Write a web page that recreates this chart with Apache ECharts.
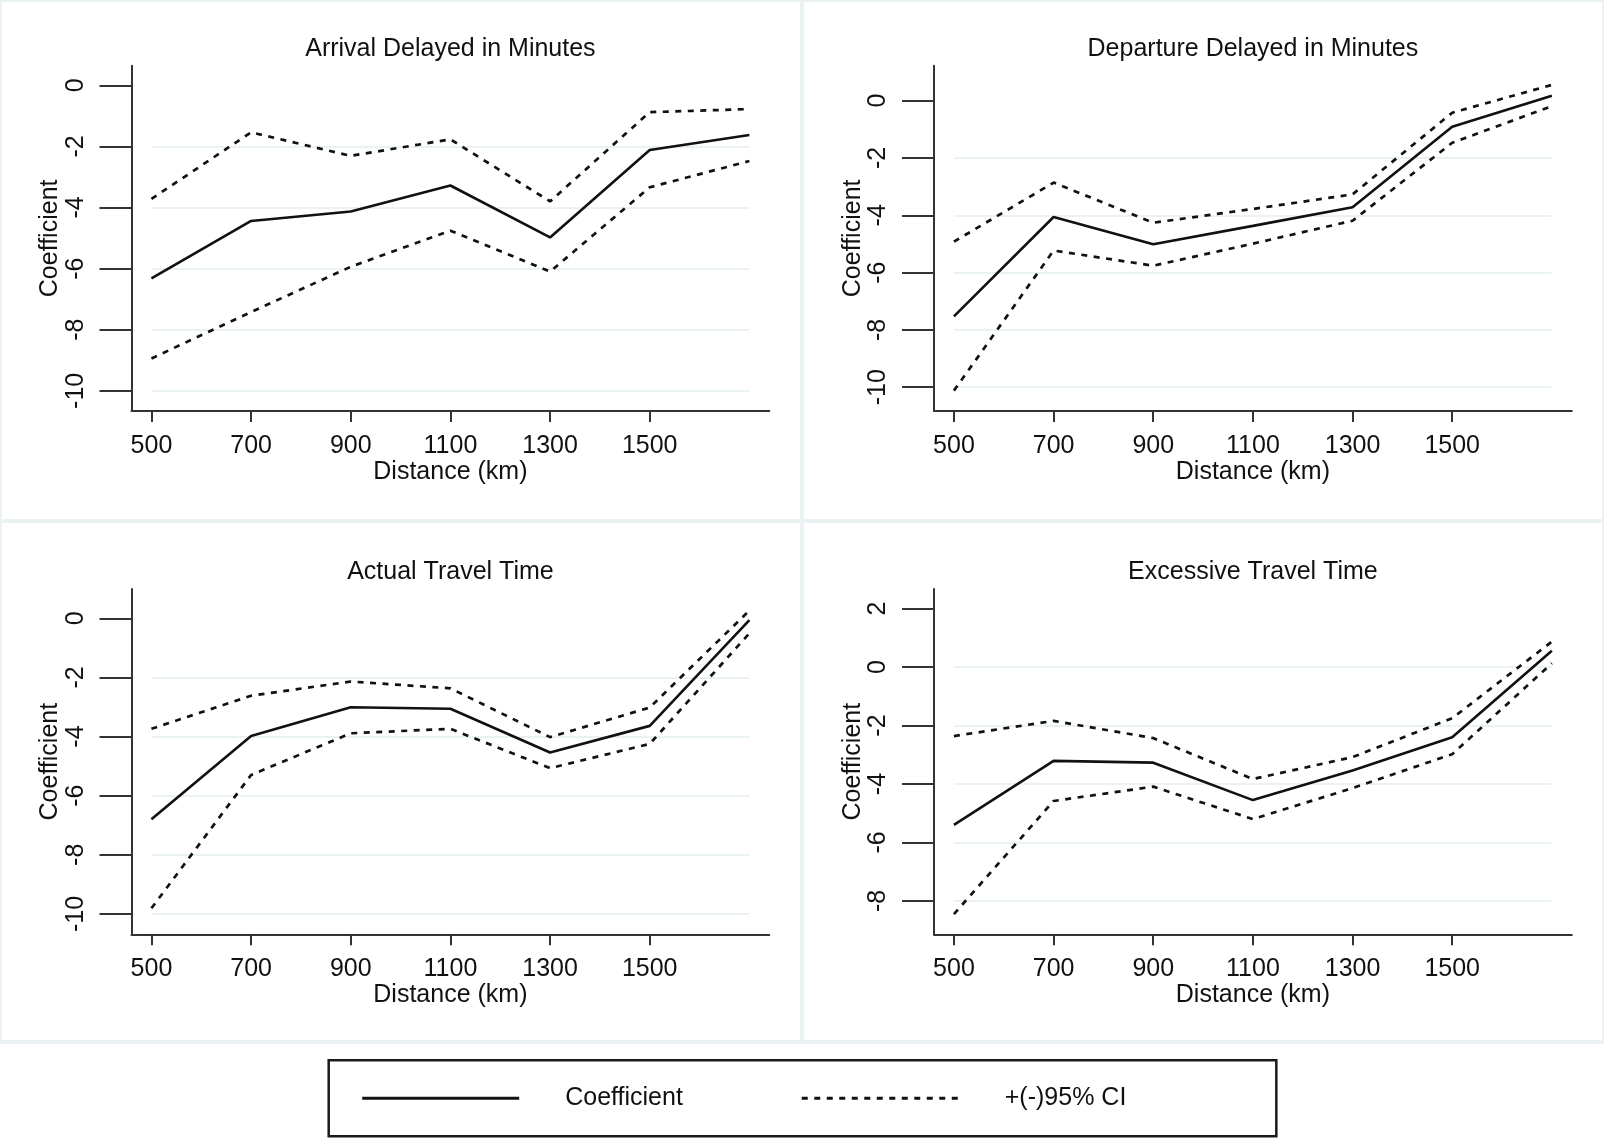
<!DOCTYPE html>
<html>
<head>
<meta charset="utf-8">
<script src="https://cdn.jsdelivr.net/npm/echarts@6/dist/echarts.min.js"></script>
<style>
html,body{margin:0;padding:0;background:#ffffff;}
#chart{width:1604px;height:1138px;}
</style>
</head>
<body>
<div id="chart"></div>
<script>
// ---------- data ----------
const distances = [500, 700, 900, 1100, 1300, 1500, 1700];
const xTickLabels = [500, 700, 900, 1100, 1300, 1500];

const panelTitles = ['Arrival Delayed in Minutes', 'Departure Delayed in Minutes', 'Actual Travel Time', 'Excessive Travel Time'];

const arrivalCoef  = [-6.32, -4.44, -4.13, -3.28, -4.98, -2.12, -1.63];
const arrivalUpper = [-3.72, -1.54, -2.31, -1.77, -3.80, -0.88, -0.78];
const arrivalLower = [-8.94, -7.42, -5.94, -4.76, -6.10, -3.34, -2.48];

const departureCoef  = [-7.53, -4.06, -5.01, -4.37, -3.72, -0.91, 0.17];
const departureUpper = [-4.92, -2.86, -4.26, -3.78, -3.27, -0.42, 0.55];
const departureLower = [-10.12, -5.23, -5.76, -4.99, -4.19, -1.47, -0.19];

const actualCoef  = [-6.80, -3.98, -3.01, -3.06, -4.54, -3.64, -0.06];
const actualUpper = [-3.74, -2.62, -2.14, -2.37, -4.02, -3.02, 0.26];
const actualLower = [-9.81, -5.30, -3.89, -3.74, -5.07, -4.25, -0.51];

const excessiveCoef  = [-5.40, -3.21, -3.27, -4.55, -3.54, -2.40, 0.56];
const excessiveUpper = [-2.36, -1.84, -2.43, -3.83, -3.08, -1.75, 0.87];
const excessiveLower = [-8.45, -4.58, -4.09, -5.20, -4.14, -2.98, 0.13];

const yTicksArrival   = [0, -2, -4, -6, -8, -10];
const yTicksDeparture = [0, -2, -4, -6, -8, -10];
const yTicksActual    = [0, -2, -4, -6, -8, -10];
const yTicksExcessive = [2, 0, -2, -4, -6, -8];

const legendNames = ['Coefficient', '+(-)95% CI'];
const xAxisTitle = 'Distance (km)';
const yAxisTitle = 'Coefficient';

// ---------- layout / style ----------
const FONT = "'Liberation Sans', Arial, Helvetica, sans-serif";
const TEXT = '#111111';
const AXIS = '#333333';
const LINE = '#111111';
const GRIDC = '#eaf2f3';
const FS = 25;

const panels = [
  {coef: arrivalCoef, up: arrivalUpper, lo: arrivalLower, ticks: yTicksArrival, yr: [-10.66, 0.64], left: 131.5, top: 65.7},
  {coef: departureCoef, up: departureUpper, lo: departureLower, ticks: yTicksDeparture, yr: [-10.83, 1.22], left: 934, top: 65.7},
  {coef: actualCoef, up: actualUpper, lo: actualLower, ticks: yTicksActual, yr: [-10.69, 0.99], left: 131.5, top: 589},
  {coef: excessiveCoef, up: excessiveUpper, lo: excessiveLower, ticks: yTicksExcessive, yr: [-9.14, 2.67], left: 934, top: 589}
];
const GW = 637.8, GH = 345.3;
const XMIN = 460, XMAX = 1740;

const pairs = (ys) => distances.map((d, i) => [d, ys[i]]);
const plain = (v) => String(v);

const grids = [], xAxes = [], yAxes = [], series = [], titles = [];

panels.forEach((p, i) => {
  grids.push({left: p.left, top: p.top, width: GW, height: GH, containLabel: false, outerBoundsMode: 'none'});
  xAxes.push({
    type: 'value', gridIndex: i, min: XMIN, max: XMAX,
    name: xAxisTitle, nameLocation: 'middle', nameGap: 48.5, nameMoveOverlap: false,
    nameTextStyle: {fontSize: FS, color: TEXT, fontFamily: FONT},
    axisLine: {show: true, onZero: false, lineStyle: {color: AXIS, width: 2}},
    axisTick: {show: true, customValues: xTickLabels, length: 11, lineStyle: {color: AXIS, width: 2}},
    axisLabel: {show: true, customValues: xTickLabels, formatter: plain, margin: 22.3, fontSize: FS, color: TEXT, fontFamily: FONT},
    splitLine: {show: false}
  });
  yAxes.push({
    type: 'value', gridIndex: i, min: p.yr[0], max: p.yr[1],
    name: yAxisTitle, nameLocation: 'middle', nameGap: 68.5, nameRotate: 90, nameMoveOverlap: false,
    nameTextStyle: {fontSize: FS, color: TEXT, fontFamily: FONT},
    axisLine: {show: true, onZero: false, lineStyle: {color: AXIS, width: 2}},
    axisTick: {show: true, customValues: p.ticks, length: 32, lineStyle: {color: AXIS, width: 2}},
    axisLabel: {show: true, customValues: p.ticks, formatter: plain, rotate: 90, margin: 43, fontSize: FS, color: TEXT, fontFamily: FONT},
    splitLine: {show: false}
  });
  // light horizontal grid lines (all ticks except the top one), spanning the data range
  series.push({
    type: 'line', name: 'grid' + i, xAxisIndex: i, yAxisIndex: i, data: [], silent: true,
    markLine: {
      silent: true, z: 1, animation: false, symbol: ['none', 'none'],
      label: {show: false}, emphasis: {disabled: true},
      lineStyle: {color: GRIDC, width: 2.2, type: 'solid'},
      data: p.ticks.slice(1).map(v => [{coord: [distances[0], v]}, {coord: [distances[distances.length - 1], v]}])
    }
  });
  series.push({
    type: 'line', name: legendNames[1], xAxisIndex: i, yAxisIndex: i, data: pairs(p.up),
    symbol: 'none', silent: true, z: 3, itemStyle: {color: LINE},
    lineStyle: {color: LINE, width: 2.7, type: [6, 6.5]}
  });
  series.push({
    type: 'line', name: legendNames[1], xAxisIndex: i, yAxisIndex: i, data: pairs(p.lo),
    symbol: 'none', silent: true, z: 3, itemStyle: {color: LINE},
    lineStyle: {color: LINE, width: 2.7, type: [6, 6.5]}
  });
  series.push({
    type: 'line', name: legendNames[0], xAxisIndex: i, yAxisIndex: i, data: pairs(p.coef),
    symbol: 'none', silent: true, z: 4, itemStyle: {color: LINE},
    lineStyle: {color: LINE, width: 2.6, type: 'solid'}
  });
  titles.push({
    text: panelTitles[i],
    left: p.left + (1100 - XMIN) / (XMAX - XMIN) * GW,
    top: p.top - 28.9,
    textAlign: 'center', padding: 0,
    textStyle: {fontSize: FS, fontWeight: 'normal', color: TEXT, fontFamily: FONT}
  });
});

const option = {
  animation: false,
  backgroundColor: '#ffffff',
  title: titles,
  grid: grids,
  xAxis: xAxes,
  yAxis: yAxes,
  series: series,
  legend: {
    data: legendNames,
    selectedMode: false,
    orient: 'horizontal',
    left: 328.7, top: 1060.3,
    padding: [25.5, 150, 25.5, 32],
    itemWidth: 157, itemHeight: 25, itemGap: 117.4,
    borderColor: '#1a1a1a', borderWidth: 2.5, backgroundColor: '#ffffff',
    itemStyle: {opacity: 0, borderWidth: 0},
    lineStyle: {width: 3},
    textStyle: {fontSize: FS, color: TEXT, fontFamily: FONT, padding: [0, 0, 0, 41], lineHeight: 25}
  },
  graphic: {
    elements: [
      {type: 'rect', shape: {x: 0, y: 0, width: 802, height: 521}, style: {fill: 'none', stroke: GRIDC, lineWidth: 4}, silent: true, z: -1},
      {type: 'rect', shape: {x: 802, y: 0, width: 802, height: 521}, style: {fill: 'none', stroke: GRIDC, lineWidth: 4}, silent: true, z: -1},
      {type: 'rect', shape: {x: 0, y: 521, width: 802, height: 521}, style: {fill: 'none', stroke: GRIDC, lineWidth: 4}, silent: true, z: -1},
      {type: 'rect', shape: {x: 802, y: 521, width: 802, height: 521}, style: {fill: 'none', stroke: GRIDC, lineWidth: 4}, silent: true, z: -1}
    ]
  }
};

const chart = echarts.init(document.getElementById('chart'), null, {renderer: 'canvas'});
chart.setOption(option);
</script>
</body>
</html>
